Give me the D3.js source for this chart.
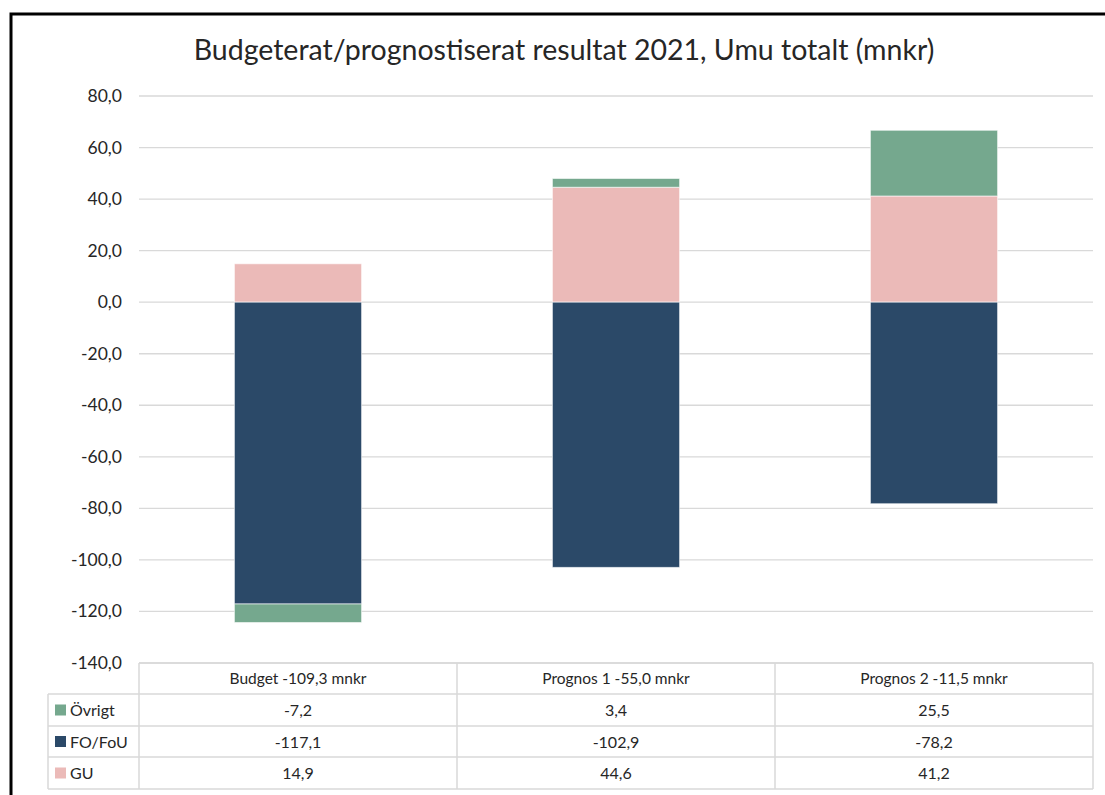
<!DOCTYPE html>
<html>
<head>
<meta charset="utf-8">
<script src="https://cdn.jsdelivr.net/npm/d3@7"></script>
<style>
  body { margin: 0; background: #fff; }
  text { font-family: Lato, "Open Sans", sans-serif; fill: #262626; }
</style>
</head>
<body>
<svg id="chart"></svg>
<script>
const width = 1105;
const height = 795;

const categories = ["Budget -109,3 mnkr", "Prognos 1 -55,0 mnkr", "Prognos 2 -11,5 mnkr"];
// stacking order (first = closest to zero)
const seriesKeys = ["GU", "FO/FoU", "Övrigt"];
// table row order
const tableRows = ["Övrigt", "FO/FoU", "GU"];
const guValues = [14.9, 44.6, 41.2];
const fofouValues = [-117.1, -102.9, -78.2];
const ovrigtValues = [-7.2, 3.4, 25.5];
const yTicks = [80, 60, 40, 20, 0, -20, -40, -60, -80, -100, -120, -140];

const colors = { "Övrigt": "#75a88e", "FO/FoU": "#2b4968", "GU": "#ebbab8" };
const valuesBySeries = { "GU": guValues, "FO/FoU": fofouValues, "Övrigt": ovrigtValues };

const fmt = v => v.toFixed(1).replace(".", ",");

const svg = d3.select("#chart").attr("width", width).attr("height", height);

// outer frame (top + left visible)
svg.append("path")
    .attr("d", "M11,795 L11,14 L1105,14")
    .attr("fill", "none").attr("stroke", "#000").attr("stroke-width", 3);

svg.append("text")
    .attr("x", 564).attr("y", 60)
    .attr("text-anchor", "middle")
    .style("font-size", "28.5px")
    .text("Budgeterat/prognostiserat resultat 2021, Umu totalt (mnkr)");

const plotLeft = 139, plotRight = 1093;
const x = d3.scaleBand().domain(categories).range([plotLeft, plotRight]).paddingInner(0.6).paddingOuter(0.3);
const xCell = d3.scaleBand().domain(categories).range([plotLeft, plotRight]);
const y = d3.scaleLinear().domain([-140, 80]).range([663, 96]);

// gridlines
svg.append("g").selectAll("line").data(yTicks).enter().append("line")
    .attr("x1", plotLeft).attr("x2", plotRight)
    .attr("y1", d => y(d)).attr("y2", d => y(d))
    .attr("stroke", "#d9d9d9").attr("stroke-width", 1.3);

// y axis labels
svg.append("g").selectAll("text").data(yTicks).enter().append("text")
    .attr("x", 122).attr("y", d => y(d) + 6)
    .attr("text-anchor", "end")
    .style("font-size", "17.5px")
    .text(d => fmt(d));

// stacked bars
const rows = categories.map((c, i) => {
    const r = { cat: c };
    seriesKeys.forEach(k => r[k] = valuesBySeries[k][i]);
    return r;
});
const stacked = d3.stack().keys(seriesKeys).offset(d3.stackOffsetDiverging)(rows);

svg.append("g").selectAll("g").data(stacked).enter().append("g")
    .attr("fill", d => colors[d.key])
    .selectAll("rect").data(d => d).enter().append("rect")
    .attr("x", d => x(d.data.cat))
    .attr("width", x.bandwidth())
    .attr("y", d => y(Math.max(d[0], d[1])))
    .attr("height", d => Math.abs(y(d[0]) - y(d[1])))
    .attr("stroke", "#ffffff").attr("stroke-opacity", 0.6).attr("stroke-width", 1);

// data table
const tableTop = 663;
const rowH = [31, 32, 31, 32];
const rowY = [tableTop];
rowH.forEach((h, i) => rowY.push(rowY[i] + h));
const tableLeft = 48;
const tbl = svg.append("g");
const gridColor = "#d9d9d9";

// horizontal lines
tbl.append("line").attr("x1", plotLeft).attr("x2", plotRight).attr("y1", rowY[0]).attr("y2", rowY[0]);
rowY.slice(1).forEach(yy => {
    tbl.append("line").attr("x1", tableLeft).attr("x2", plotRight).attr("y1", yy).attr("y2", yy);
});
// vertical lines
tbl.append("line").attr("x1", tableLeft).attr("x2", tableLeft).attr("y1", rowY[1]).attr("y2", rowY[4]);
[plotLeft, ...categories.map(c => xCell(c) + xCell.bandwidth())].forEach(xx => {
    tbl.append("line").attr("x1", xx).attr("x2", xx).attr("y1", rowY[0]).attr("y2", rowY[4]);
});
tbl.selectAll("line").attr("stroke", gridColor).attr("stroke-width", 1.5);

// header
tbl.selectAll("text.head").data(categories).enter().append("text")
    .attr("class", "head")
    .attr("x", d => xCell(d) + xCell.bandwidth() / 2)
    .attr("y", rowY[0] + 21)
    .attr("text-anchor", "middle")
    .style("font-size", "15.5px")
    .text(d => d);

tableRows.forEach((key, ri) => {
    const cy = (rowY[ri + 1] + rowY[ri + 2]) / 2;
    tbl.append("rect")
        .attr("x", 55).attr("y", cy - 5.5).attr("width", 11).attr("height", 11)
        .attr("fill", colors[key]);
    tbl.append("text")
        .attr("x", 70).attr("y", cy + 6)
        .style("font-size", "16px")
        .text(key);
    tbl.selectAll("text.v" + ri).data(categories).enter().append("text")
        .attr("class", "v" + ri)
        .attr("x", d => xCell(d) + xCell.bandwidth() / 2)
        .attr("y", cy + 6)
        .attr("text-anchor", "middle")
        .style("font-size", "16px")
        .text((d, i) => fmt(valuesBySeries[key][i]));
});
</script>
</body>
</html>
